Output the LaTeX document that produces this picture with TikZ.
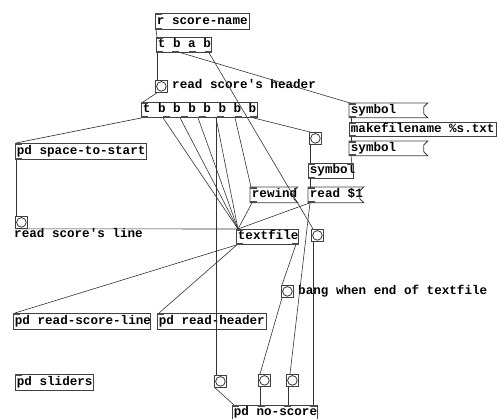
\documentclass[tikz,border=0pt]{standalone}
\usepackage{fontspec}
\newfontfamily\pdfnt{Liberation Mono}
\newcommand\pdtxt[2]{\makebox[#1pt][l]{\hspace{1.5pt}#2}}
\begin{document}
\begin{tikzpicture}[x=1pt,y=-1pt,
  font=\pdfnt\bfseries\fontsize{12.6}{14}\selectfont,
  obj/.style={draw=black!75, line width=0.8pt, anchor=north west, inner xsep=0pt, inner ysep=0pt,
    minimum height=15pt, text height=9pt, text depth=3pt},
  msgb/.style={obj, draw=none},
  bng/.style={draw=black!75, line width=0.8pt, anchor=north west, minimum size=12pt, inner sep=0pt,
    path picture={\draw[black!80, line width=0.8pt] (path picture bounding box.center) circle (4.8pt);}},
  cmt/.style={anchor=west, inner sep=0pt, text height=9pt, text depth=3pt},
  cn/.style={black!80, line width=0.6pt},
  io/.style={fill=black!70}
]
\useasboundingbox (0,0) rectangle (497,419);

% objects
\node[obj, minimum height=16pt] (rsn) at (155,13) {\pdtxt{94}{r score-name}};
\node[obj] (tbab) at (156,37) {\pdtxt{55}{t b a b}};
\node[bng] (bhdr) at (155,80) {};
\node[cmt] (lhdr) at (172,86) {read score's header};
\node[obj] (tb7) at (141,102) {\pdtxt{116}{t b b b b b b b}};
\node[msgb, minimum height=14pt] (sym1) at (349,103) {\pdtxt{74}{symbol}};
\node[obj, minimum height=14pt] (mkf) at (349,122) {\pdtxt{147}{makefilename \%s.txt}};
\node[msgb, minimum height=14pt] (sym2) at (349,141) {\pdtxt{74}{symbol}};
\node[bng] (bng1) at (309,132) {};
\node[obj] (symo) at (308,163) {\pdtxt{45}{symbol}};
\node[msgb] (rew) at (250,187) {\pdtxt{43}{rewind}};
\node[msgb] (rd1) at (308,187) {\pdtxt{51}{read \$1}};
\node[obj, minimum height=16pt] (pdsp) at (15,143) {\pdtxt{131}{pd space-to-start}};
\node[bng] (bline) at (15,216) {};
\node[cmt] (lline) at (14,235) {read score's line};
\node[obj] (tf) at (236,229) {\pdtxt{62}{textfile}};
\node[bng] (bng2) at (311,229) {};
\node[bng] (bend) at (281,285) {};
\node[cmt] (lend) at (298,291) {bang when end of textfile};
\node[obj, minimum height=16pt] (pdrsl) at (13,313) {\pdtxt{137}{pd read-score-line}};
\node[obj, minimum height=16pt] (pdrh) at (157,313) {\pdtxt{109}{pd read-header}};
\node[obj, minimum height=16pt] (pdsl) at (15,374) {\pdtxt{78}{pd sliders}};
\node[bng] (bngA) at (214,375) {};
\node[bng] (bngB) at (258,374) {};
\node[bng] (bngC) at (286,374) {};
\node[obj, minimum height=13.5pt] (pdns) at (232,405) {\pdtxt{85}{pd no-score}};

% message box outlines with flag
\foreach \m in {sym1,sym2,rew,rd1}{
  \draw[black!75, line width=0.8pt] (\m.north west) -- ([xshift=4pt]\m.north east)
    -- ([yshift=-4pt]\m.north east) -- ([yshift=4pt]\m.south east)
    -- ([xshift=4pt]\m.south east) -- (\m.south west) -- cycle;
}

% inlets / outlets
\foreach \n in {rsn,tbab,tb7,sym1,mkf,sym2,symo,rew,rd1,pdsp,tf,pdrsl,pdrh,pdsl,pdns}{
  \fill[io] (\n.north west) rectangle ([xshift=7pt,yshift=-2pt]\n.north west);
}
\foreach \n in {rsn,tbab,tb7,sym1,mkf,sym2,symo,rew,rd1,pdsp,tf}{
  \fill[io] (\n.south west) rectangle ([xshift=7pt,yshift=2pt]\n.south west);
}
\foreach \s in {22,40,58,76,94,109}{
  \fill[io] ([xshift=\s pt]tb7.south west) rectangle ([xshift=\s pt+7pt,yshift=2pt]tb7.south west);
}
\foreach \s in {16,33,49}{
  \fill[io] ([xshift=\s pt]tbab.south west) rectangle ([xshift=\s pt+7pt,yshift=2pt]tbab.south west);
}
\fill[io] ([xshift=-7pt]tf.south east) rectangle ([yshift=2pt]tf.south east);
\fill[io] ([xshift=-7pt]symo.north east) rectangle ([yshift=-2pt]symo.north east);
\foreach \s in {26,52,78}{
  \fill[io] ([xshift=\s pt]pdns.north west) rectangle ([xshift=\s pt+7pt,yshift=-2pt]pdns.north west);
}

% connections
\draw[cn] ([xshift=1pt]rsn.south west) -- ([xshift=1pt]tbab.north west);
\draw[cn] ([xshift=1pt]tbab.south west) -- ([xshift=2pt]bhdr.north west);
\draw[cn] ([xshift=25pt]tbab.south west) -- ([xshift=1pt]sym1.north west);
\draw[cn] ([xshift=53pt]tbab.south west) -- ([xshift=2pt]bng2.north west);
\draw[cn] ([xshift=2pt]bhdr.south west) -- ([xshift=2pt]tb7.north west);
\draw[cn] ([xshift=1pt]tb7.south west) -- ([xshift=1pt]pdsp.north west);
\foreach \s in {22,39,57,75}{
  \draw[cn] ([xshift=\s pt]tb7.south west) -- ([xshift=2pt]tf.north west);
}
\draw[cn] ([xshift=75pt]tb7.south west) -- ([xshift=2pt]bngA.north west);
\draw[cn] ([xshift=94pt]tb7.south west) -- ([xshift=1pt]rew.north west);
\draw[cn] ([xshift=112pt]tb7.south west) -- ([xshift=1pt]bng1.north west);
\draw[cn] ([xshift=2pt]sym1.south west) -- ([xshift=2pt]mkf.north west);
\draw[cn] ([xshift=2pt]mkf.south west) -- ([xshift=2pt]sym2.north west);
\draw[cn] ([xshift=2pt]sym2.south west) -- ([xshift=-2pt]symo.north east);
\draw[cn] ([xshift=1pt]bng1.south west) -- ([xshift=2pt]symo.north west);
\draw[cn] ([xshift=2pt]symo.south west) -- ([xshift=2pt]rd1.north west);
\draw[cn] ([xshift=2pt]rew.south west) -- ([xshift=2pt]tf.north west);
\draw[cn] ([xshift=2pt]rd1.south west) -- ([xshift=2pt]tf.north west);
\draw[cn] ([xshift=2pt]rd1.south west) -- ([xshift=4pt]bngC.north west);
\draw[cn] ([xshift=1pt]pdsp.south west) -- ([xshift=1pt]bline.north west);
\draw[cn] ([xshift=1pt]bline.south west) -- ([xshift=1pt]tf.north west);
\draw[cn] ([xshift=1pt]tf.south west) -- ([xshift=2pt]pdrsl.north west);
\draw[cn] ([xshift=1pt]tf.south west) -- ([xshift=2pt]pdrh.north west);
\draw[cn] ([xshift=-3pt]tf.south east) -- ([xshift=1pt]bend.north west);
\draw[cn] ([xshift=1pt]bend.south west) -- ([xshift=2pt]bngB.north west);
\draw[cn] ([xshift=1pt]bngA.south west) -- ([xshift=2pt]pdns.north west);
\draw[cn] ([xshift=2pt]bngB.south west) -- ([xshift=28pt]pdns.north west);
\draw[cn] ([xshift=2pt]bngC.south west) -- ([xshift=56pt]pdns.north west);
\draw[cn] ([xshift=2pt]bng2.south west) -- ([xshift=81pt]pdns.north west);
\end{tikzpicture}
\end{document}
